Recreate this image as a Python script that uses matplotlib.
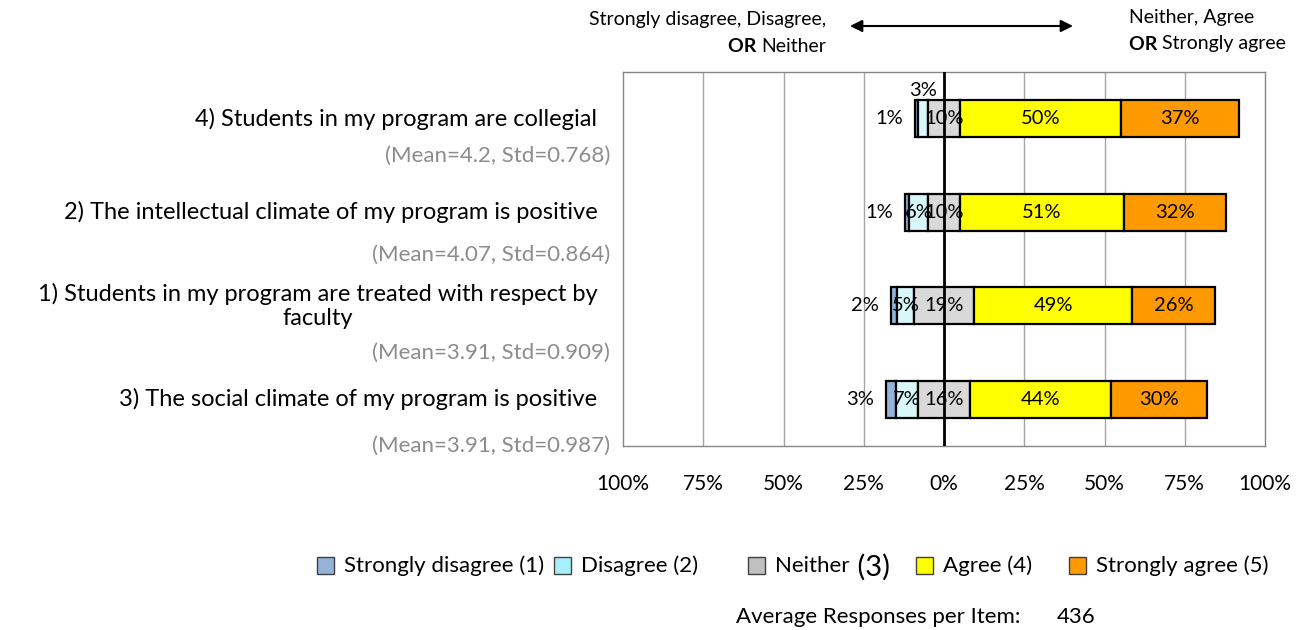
import numpy as np
import matplotlib.pyplot as plt
from matplotlib.patches import Rectangle
import matplotlib.transforms as mtransforms

plt.rcParams['font.family'] = ['Lato', 'DejaVu Sans']

# survey items, top to bottom
questions = ["4) Students in my program are collegial",
             "2) The intellectual climate of my program is positive",
             "1) Students in my program are treated with respect by\nfaculty",
             "3) The social climate of my program is positive"]
means = [4.2, 4.07, 3.91, 3.91]
stds = [0.768, 0.864, 0.909, 0.987]

# percent of responses per answer
strongly_disagree = [1, 1, 2, 3]
disagree = [3, 6, 5, 7]
neither = [10, 10, 19, 16]
agree = [50, 51, 49, 44]
strongly_agree = [37, 32, 26, 30]

avg_responses = 436

cats = ["Strongly disagree (1)", "Disagree (2)", "Neither", "Agree (4)", "Strongly agree (5)"]
bar_colors = ["#95B3D7", "#D8F7FB", "#D9D9D9", "#FFFF00", "#FF9900"]
legend_colors = ["#95B3D7", "#A6F0FB", "#C0C0C0", "#FFFF00", "#FF9900"]

W, H = 1299, 630
fig = plt.figure(figsize=(W / 100, H / 100), dpi=100)
ax = fig.add_axes([623 / W, 1 - 446 / H, 642 / W, 374 / H])

series = np.array([strongly_disagree, disagree, neither, agree, strongly_agree], dtype=float)
y = np.arange(len(questions))
start = -(series[0] + series[1] + series[2] / 2)

left = start.copy()
bar_h = 0.4
lab_fs = 14.5
for k in range(5):
    ax.barh(y, series[k], left=left, height=bar_h, color=bar_colors[k],
            edgecolor="black", linewidth=1.6, zorder=3)
    for i in range(len(y)):
        v = series[k][i]
        mid = left[i] + v / 2
        txt = "%d%%" % v
        if k == 0:
            # tiny strongly-disagree slice: label sits outside, left of the bar
            ax.annotate(txt, (left[i], y[i]), xytext=(-9, 0), textcoords="offset points",
                        ha="right", va="center", fontsize=lab_fs, zorder=5)
        elif k == 1 and i == 0:
            ax.text(mid, y[i] - bar_h / 2 - 0.01, txt, ha="center", va="bottom",
                    fontsize=lab_fs, zorder=5)
        else:
            ax.text(mid, y[i], txt, ha="center", va="center", fontsize=lab_fs, zorder=5)
    left = left + series[k]

ax.set_xlim(-100, 100)
ax.set_ylim(len(questions) - 0.5, -0.5)
ticks = np.arange(-100, 101, 25)
ax.set_xticks(ticks)
ax.set_xticklabels(["%d%%" % abs(t) for t in ticks], fontsize=15)
ax.tick_params(axis="x", length=0, pad=20)
ax.set_yticks([])
for t in ticks[1:-1]:
    if t == 0:
        ax.axvline(0, color="black", linewidth=2, zorder=4)
    else:
        ax.axvline(t, color="#A6A6A6", linewidth=1, zorder=1)
for s in ax.spines.values():
    s.set_color("#868686")
    s.set_linewidth(1)

# question labels and their stats
trans = mtransforms.blended_transform_factory(ax.transAxes, ax.transData)
stat_offset = [0.40, 0.46, 0.50, 0.50]
for i, q in enumerate(questions):
    ax.text(-0.04, y[i], q, transform=trans, ha="right", va="center", fontsize=17,
            multialignment="center")
    ax.text(-0.02, y[i] + stat_offset[i], "(Mean=%s, Std=%s)" % (means[i], stds[i]),
            transform=trans, ha="right", va="center", fontsize=16, color="#8C8C8C")

# direction arrow with captions at the top
top_fs = 14
fig.text(826 / W, 1 - 20 / H, "Strongly disagree, Disagree,", ha="right", va="center", fontsize=top_fs)
t_left = fig.text(826 / W, 1 - 46 / H, "Neither", ha="right", va="center", fontsize=top_fs)
fig.add_artist(plt.Annotation("OR ", xy=(0, 0.5), xycoords=t_left, ha="right", va="center",
                              fontsize=top_fs, fontweight="bold"))
fig.text(1129 / W, 1 - 18 / H, "Neither, Agree", ha="left", va="center", fontsize=top_fs)
t_or = fig.text(1129 / W, 1 - 44 / H, "OR ", ha="left", va="center", fontsize=top_fs, fontweight="bold")
fig.add_artist(plt.Annotation("Strongly agree", xy=(1, 0.5), xycoords=t_or, ha="left", va="center",
                              fontsize=top_fs))
fig.add_artist(plt.Annotation("", xy=(1073 / W, 1 - 26 / H), xytext=(850 / W, 1 - 26 / H),
                              xycoords="figure fraction", textcoords="figure fraction",
                              arrowprops=dict(arrowstyle="<|-|>", color="black", lw=1.5,
                                              mutation_scale=18, shrinkA=0, shrinkB=0)))

# legend
leg_x = [317, 554, 748, 916, 1069]
for k in range(5):
    fig.add_artist(Rectangle((leg_x[k] / W, 1 - 574 / H), 17 / W, 17 / H, transform=fig.transFigure,
                             facecolor=legend_colors[k], edgecolor="#404040", linewidth=1))
    lt = fig.text((leg_x[k] + 27) / W, 1 - 566 / H, cats[k], ha="left", va="center", fontsize=16)
    if k == 2:
        fig.add_artist(plt.Annotation(" (3)", xy=(1, 0.45), xycoords=lt, ha="left", va="center",
                                      fontsize=21))

fig.text(1020 / W, 1 - 617 / H, "Average Responses per Item:", ha="right", va="center", fontsize=16)
fig.text(1057 / W, 1 - 617 / H, str(avg_responses), ha="left", va="center", fontsize=16)

fig.savefig("out.png", dpi=100)
